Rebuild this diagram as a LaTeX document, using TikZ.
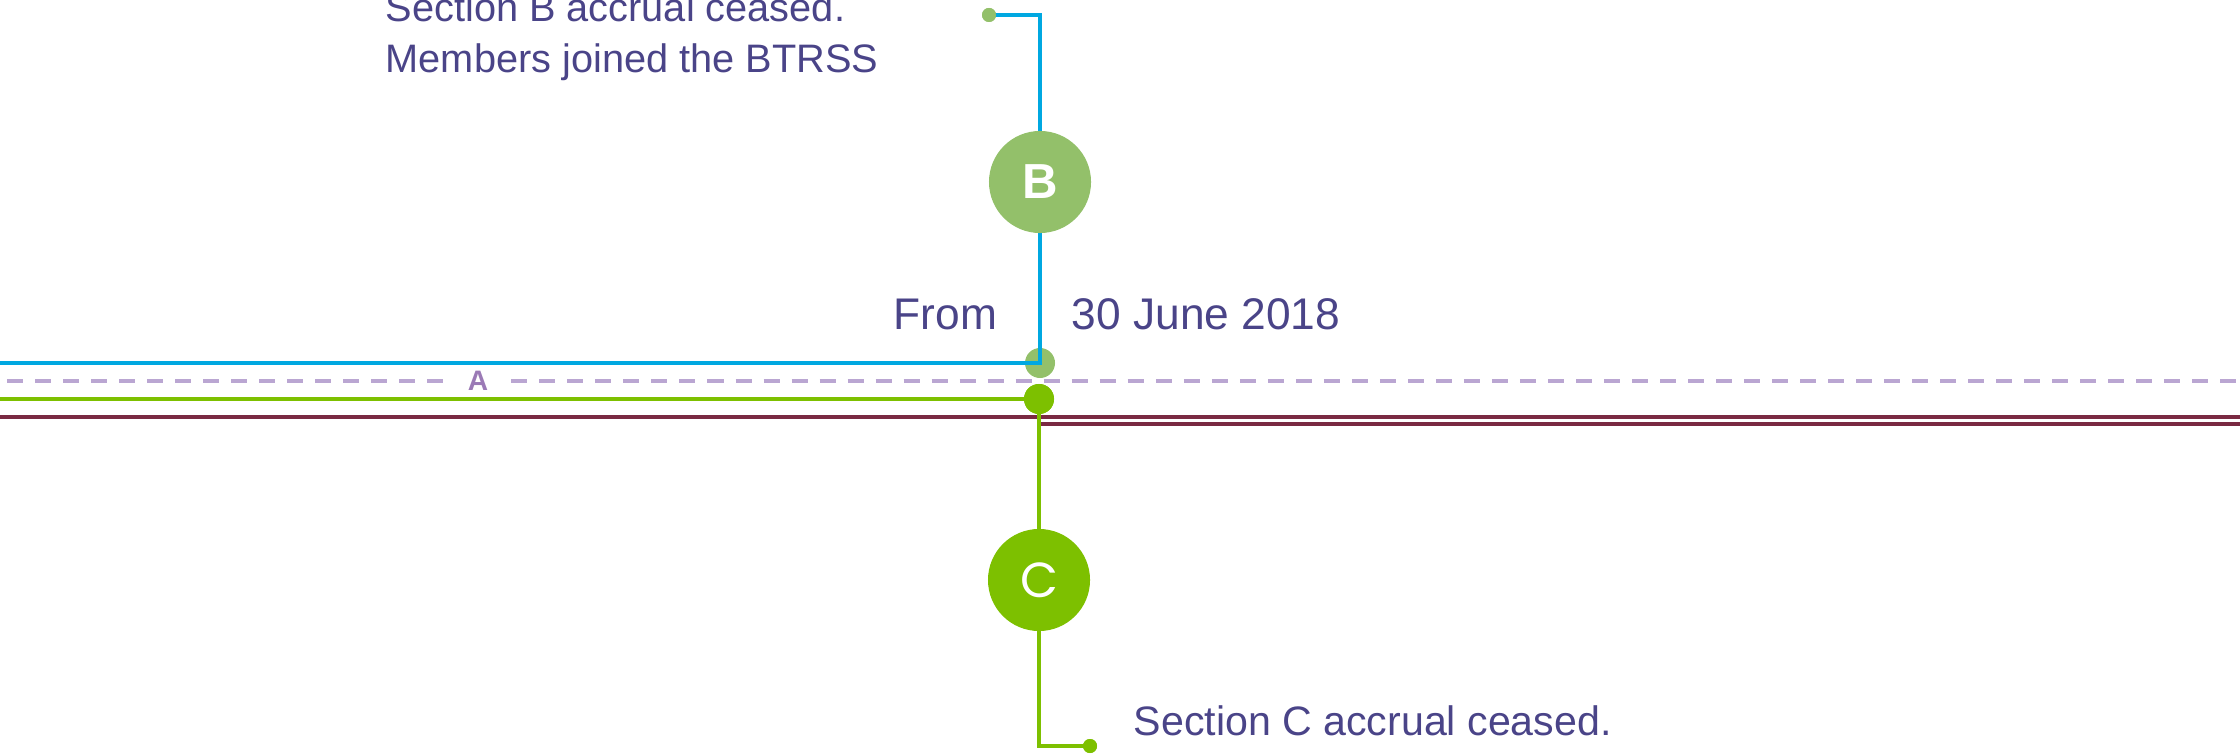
\documentclass[tikz,border=0pt]{standalone}
\usepackage{fontspec}
\setmainfont{Liberation Sans}
\newfontfamily\roundfont{Poppins}
\usepackage{tikz}
\usetikzlibrary{positioning}

\definecolor{textpurple}{RGB}{74,68,136}
\definecolor{lblue}{RGB}{0,168,225}
\definecolor{sagegreen}{RGB}{147,192,106}
\definecolor{limegreen}{RGB}{125,192,0}
\definecolor{maroon}{RGB}{122,42,66}
\definecolor{lilac}{RGB}{186,166,210}
\definecolor{alabel}{RGB}{155,122,182}

\begin{document}
\begin{tikzpicture}[x=0.01cm, y=-0.01cm]

                \def\w{1pt}

                % Styles for the badges, dots and notes
                \tikzset{
                    badge/.style={circle, minimum size=1.02cm, inner sep=0pt,
                        text=white},
                    joint/.style={circle, minimum size=0.3cm, inner sep=0pt},
                    tip/.style={circle, minimum size=0.14cm, inner sep=0pt},
                    note/.style={anchor=base west, inner sep=0pt, text=textpurple,
                        font=\fontsize{11.3}{14}\selectfont},
                    datenote/.style={anchor=base west, inner sep=0pt, text=textpurple,
                        font=\fontsize{12.6}{15}\selectfont},
                    line/.style={line width=\w}
                }

                \useasboundingbox (0,0) rectangle (2240,755);

                % Dots and badges
                \node (jB) [joint, fill=sagegreen] at (1040,363) {};
                \node (jC) [joint, fill=limegreen] at (1039,399) {};
                \node (endB) [tip, fill=sagegreen] at (989,15) {};
                \node (endC) [tip, fill=limegreen] at (1090,746) {};

                % Notes
                \node (noteB1) [note] at (385,21.7) {Section B accrual ceased.};
                \node (noteB2) [note] at (385,72.7) {Members joined the BTRSS};
                \node (from) [datenote] at (893,330) {From};
                \node (date) [datenote] at (1071,330) {30 June 2018};
                \node (noteC) [note, font=\fontsize{11.7}{14}\selectfont]
                    at (1133,735.7) {Section C accrual ceased.};

                % Free ends of the long lines
                \coordinate (bL) at (0,363);
                \coordinate (gL) at (0,399);
                \coordinate (dL) at (7,381);
                \coordinate (dR) at (2240,381);
                \coordinate (mL) at (0,417);
                \coordinate (mR) at (2240,417);
                \coordinate (m2L) at (1041,424);
                \coordinate (m2R) at (2240,424);

                \node (A) [inner xsep=0.225cm, inner ysep=0pt, text=alabel,
                    font=\fontsize{8}{8}\selectfont\bfseries] at (478,381) {A};

                \begin{scope}[line]
                    \draw[lilac, dash pattern=on 0.16cm off 0.12cm] (dL) -- (A.west);
                    \draw[lilac, dash pattern=on 0.16cm off 0.12cm] (A.east) -- (dR);
                    \draw[maroon] (mL) -- (mR);
                    \draw[maroon] (m2L) -- (m2R);
                    \draw[lblue] (endB.center) -| (jB.center) -- (bL);
                    \draw[limegreen] (gL) -- (jC.center);
                    \draw[limegreen] (jC.center) |- (endC.center);
                \end{scope}

                \node (jC2) [joint, fill=limegreen] at (jC) {};
                \node (endB2) [tip, fill=sagegreen] at (endB) {};
                \node (endC2) [tip, fill=limegreen] at (endC) {};

                \node (B) [badge, fill=sagegreen,
                    font=\fontsize{14}{14}\selectfont\bfseries] at (1040,182) {B};
                \node (C) [badge, fill=limegreen,
                    font=\fontsize{14}{14}\selectfont\roundfont] at (1039,580) {C};

                \end{tikzpicture}
\end{document}
